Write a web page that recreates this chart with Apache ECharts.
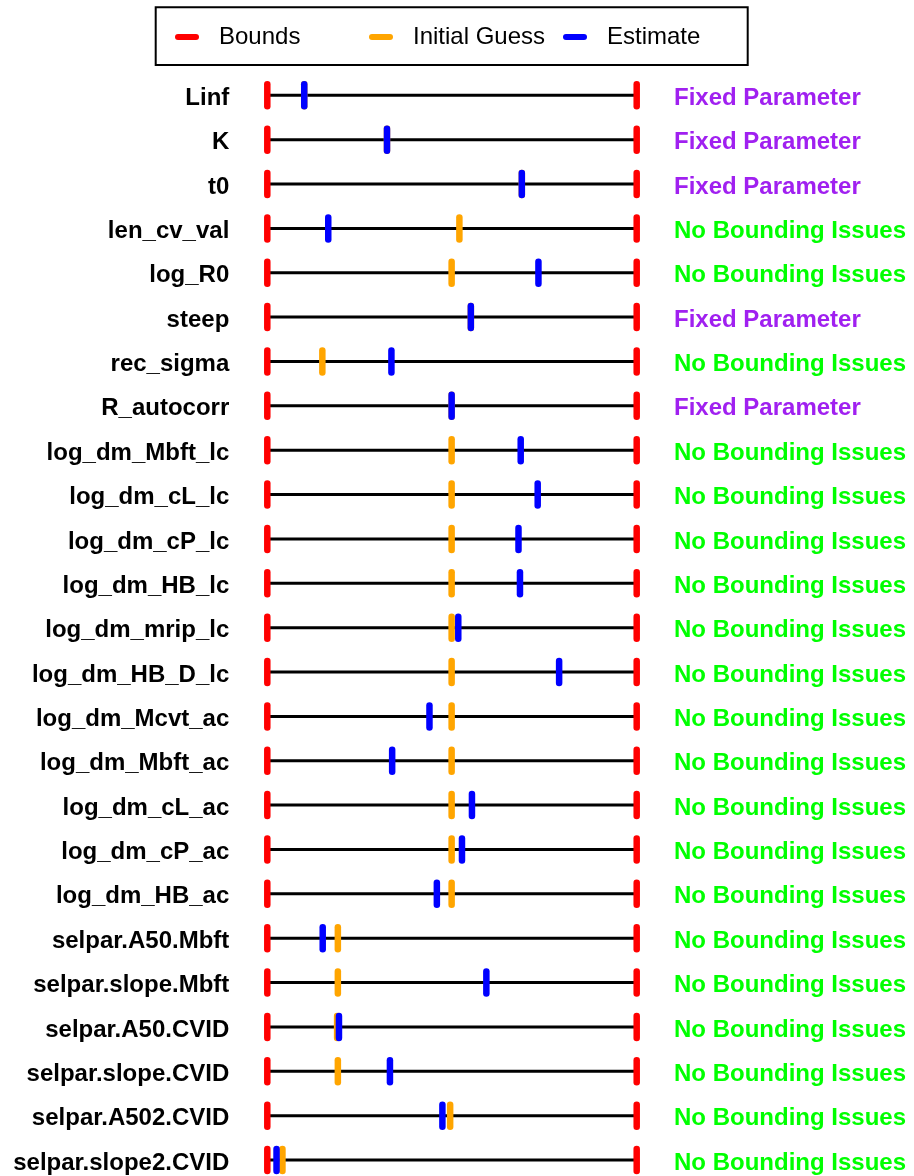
<!DOCTYPE html>
<html>
<head>
<meta charset="utf-8">
<script src="https://cdn.jsdelivr.net/npm/echarts@6/dist/echarts.min.js"></script>
<style>
  html, body { margin: 0; padding: 0; background: #ffffff; }
  #chart { width: 914px; height: 1176px; }
</style>
</head>
<body>
<div id="chart"></div>
<script>
// Parameter names, top to bottom
const paramNames = [
  'Linf', 'K', 't0', 'len_cv_val', 'log_R0', 'steep', 'rec_sigma', 'R_autocorr',
  'log_dm_Mbft_lc', 'log_dm_cL_lc', 'log_dm_cP_lc', 'log_dm_HB_lc', 'log_dm_mrip_lc',
  'log_dm_HB_D_lc', 'log_dm_Mcvt_ac', 'log_dm_Mbft_ac', 'log_dm_cL_ac', 'log_dm_cP_ac',
  'log_dm_HB_ac', 'selpar.A50.Mbft', 'selpar.slope.Mbft', 'selpar.A50.CVID',
  'selpar.slope.CVID', 'selpar.A502.CVID', 'selpar.slope2.CVID'
];

// Bounding status of each parameter
const statusLabels = [
  'Fixed Parameter', 'Fixed Parameter', 'Fixed Parameter', 'No Bounding Issues',
  'No Bounding Issues', 'Fixed Parameter', 'No Bounding Issues', 'Fixed Parameter',
  'No Bounding Issues', 'No Bounding Issues', 'No Bounding Issues', 'No Bounding Issues',
  'No Bounding Issues', 'No Bounding Issues', 'No Bounding Issues', 'No Bounding Issues',
  'No Bounding Issues', 'No Bounding Issues', 'No Bounding Issues', 'No Bounding Issues',
  'No Bounding Issues', 'No Bounding Issues', 'No Bounding Issues', 'No Bounding Issues',
  'No Bounding Issues'
];

// Positions scaled to each parameter's bounds (0 = lower, 1 = upper)
const lowerBound = [0,0,0,0,0,0,0,0,0,0,0,0,0,0,0,0,0,0,0,0,0,0,0,0,0];
const upperBound = [1,1,1,1,1,1,1,1,1,1,1,1,1,1,1,1,1,1,1,1,1,1,1,1,1];

const initialGuess = [
  0.100, 0.324, 0.689, 0.520, 0.499, 0.551, 0.149, 0.499,
  0.499, 0.499, 0.499, 0.499, 0.499, 0.499, 0.499, 0.499,
  0.499, 0.499, 0.499, 0.191, 0.191, 0.189, 0.191, 0.495, 0.041
];

const estimate = [
  0.100, 0.324, 0.689, 0.165, 0.734, 0.551, 0.336, 0.499,
  0.686, 0.732, 0.680, 0.684, 0.517, 0.790, 0.439, 0.338,
  0.554, 0.527, 0.459, 0.150, 0.593, 0.194, 0.332, 0.474, 0.025
];

const COLORS = {
  bounds: '#ff0000',
  initial: '#ffa500',
  estimate: '#0000ff',
  fixed: '#a020f0',
  ok: '#00ff00'
};

const FONT = '"Liberation Sans", Arial, Helvetica, sans-serif';

// Short vertical tick marker at (value, row)
function tickRender(color) {
  return function (params, api) {
    const p = api.coord([api.value(0), api.value(1)]);
    return {
      type: 'line',
      shape: { x1: p[0], y1: p[1] - 11, x2: p[0], y2: p[1] + 11 },
      style: { stroke: color, lineWidth: 6.5, lineCap: 'round' }
    };
  };
}

function tickSeries(name, color, values, z) {
  return {
    name: name,
    type: 'custom',
    renderItem: tickRender(color),
    itemStyle: { color: color },
    encode: { x: 0, y: 1 },
    data: values.map((v, i) => [v, i]),
    z: z,
    silent: true
  };
}

const boundData = [];
paramNames.forEach((_, i) => {
  boundData.push([lowerBound[i], i]);
  boundData.push([upperBound[i], i]);
});

const legendIcon = 'path://M3,0 L21,0 A3,3 0 0 1 21,6 L3,6 A3,3 0 0 1 3,0 Z';

const labelText = { fontFamily: FONT, fontWeight: 'bold', fontSize: 24 };

const option = {
  animation: false,
  backgroundColor: '#ffffff',
  grid: { left: 267.3, right: 277.3, top: 95.3, bottom: 16, containLabel: false },
  xAxis: { type: 'value', min: 0, max: 1, show: false },
  yAxis: [
    {
      type: 'category',
      data: paramNames,
      inverse: true,
      boundaryGap: false,
      position: 'left',
      axisLine: { show: false },
      axisTick: { show: false },
      splitLine: { show: false },
      axisLabel: {
        margin: 38,
        interval: 0,
        fontFamily: FONT,
        fontWeight: 'bold',
        fontSize: 24,
        padding: [6, 0, 0, 0],
        formatter: value => '{p|' + value + '}',
        rich: {
          p: Object.assign({ color: '#000000' }, labelText)
        }
      }
    },
    {
      type: 'category',
      data: paramNames,
      inverse: true,
      boundaryGap: false,
      position: 'right',
      axisLine: { show: false },
      axisTick: { show: false },
      splitLine: { show: false },
      axisLabel: {
        margin: 37.3,
        interval: 0,
        fontFamily: FONT,
        fontWeight: 'bold',
        fontSize: 24,
        padding: [6, 0, 0, 0],
        formatter: function (value, index) {
          const s = statusLabels[index];
          return (s === 'Fixed Parameter' ? '{f|' : '{n|') + s + '}';
        },
        rich: {
          f: Object.assign({ color: COLORS.fixed }, labelText),
          n: Object.assign({ color: COLORS.ok }, labelText)
        }
      }
    }
  ],
  legend: {
    left: 175,
    top: 25,
    padding: 0,
    itemWidth: 24,
    itemHeight: 6,
    itemGap: 0,
    selectedMode: false,
    formatter: name => '{t|' + name + '}',
    textStyle: {
      fontFamily: FONT,
      fontSize: 24,
      color: '#000000',
      rich: {
        t: { fontFamily: FONT, fontSize: 24, color: '#000000', width: 150, padding: [0, 0, 0, 15], lineHeight: 28 }
      }
    },
    data: [
      { name: 'Bounds', icon: legendIcon, itemStyle: { color: COLORS.bounds } },
      { name: 'Initial Guess', icon: legendIcon, itemStyle: { color: COLORS.initial } },
      { name: 'Estimate', icon: legendIcon, itemStyle: { color: COLORS.estimate } }
    ]
  },
  graphic: [
    {
      type: 'rect',
      shape: { x: 155.7, y: 7.3, width: 592, height: 57.7 },
      style: { fill: 'none', stroke: '#000000', lineWidth: 2 },
      silent: true
    }
  ],
  series: [
    {
      name: 'range',
      type: 'custom',
      renderItem: function (params, api) {
        const a = api.coord([api.value(0), api.value(2)]);
        const b = api.coord([api.value(1), api.value(2)]);
        return {
          type: 'line',
          shape: { x1: a[0], y1: a[1], x2: b[0], y2: b[1] },
          style: { stroke: '#000000', lineWidth: 3 }
        };
      },
      encode: { x: [0, 1], y: 2 },
      data: paramNames.map((_, i) => [lowerBound[i], upperBound[i], i]),
      z: 1,
      silent: true
    },
    {
      name: 'Bounds',
      type: 'custom',
      renderItem: tickRender(COLORS.bounds),
      itemStyle: { color: COLORS.bounds },
      encode: { x: 0, y: 1 },
      data: boundData,
      z: 2,
      silent: true
    },
    tickSeries('Initial Guess', COLORS.initial, initialGuess, 3),
    tickSeries('Estimate', COLORS.estimate, estimate, 4)
  ]
};

const chart = echarts.init(document.getElementById('chart'), null, { renderer: 'canvas' });
chart.setOption(option);
</script>
</body>
</html>
